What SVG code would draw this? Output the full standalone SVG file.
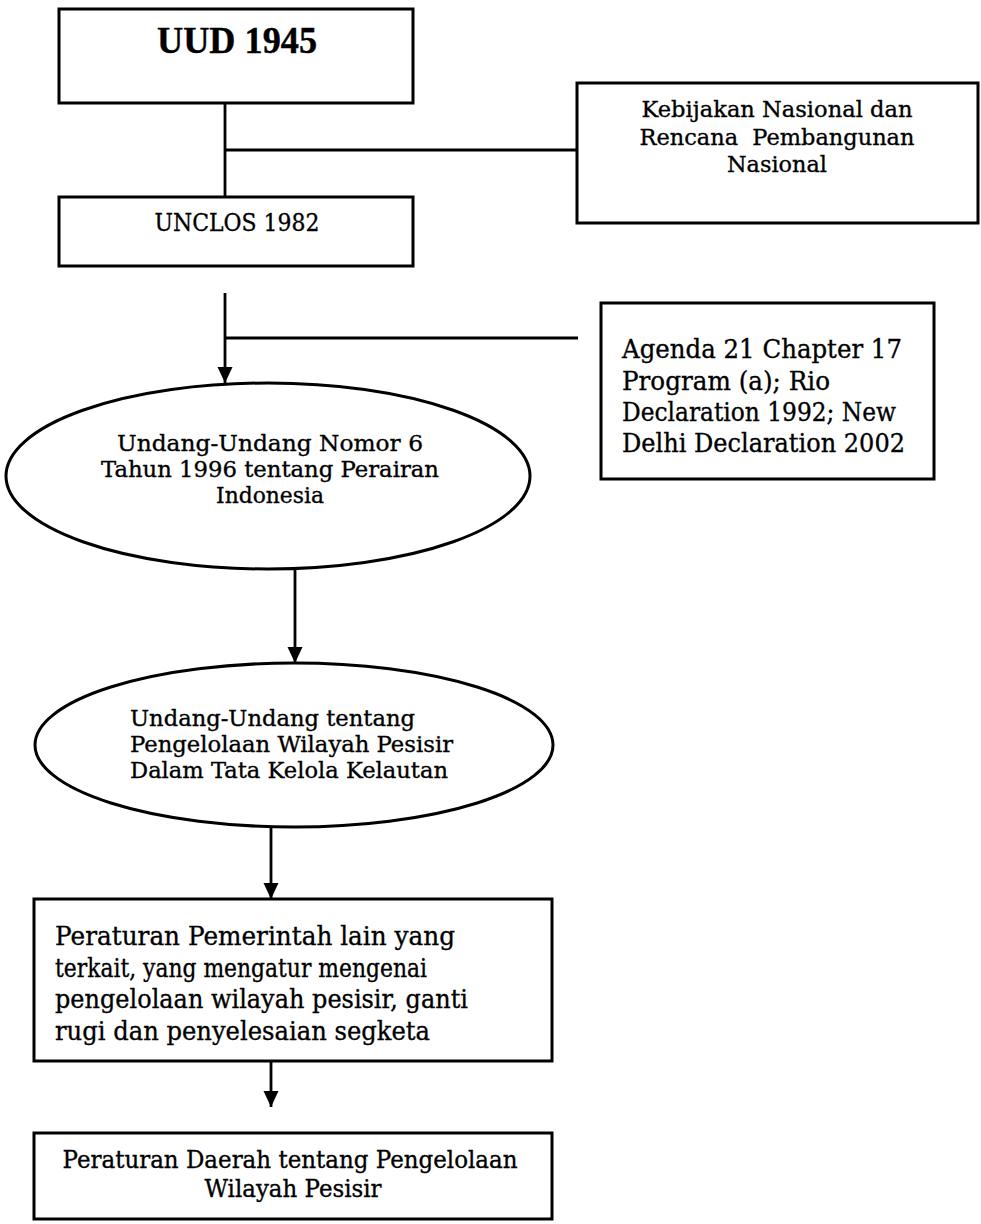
<svg xmlns="http://www.w3.org/2000/svg" width="981" height="1224" viewBox="0 0 981 1224">
<style>
.box{fill:#fff;stroke:#000;stroke-width:3}
.con{fill:none;stroke:#000;stroke-width:2.8}
.t{font-family:"DejaVu Serif","Liberation Serif",serif;fill:#000;stroke:#000;stroke-width:0.35}
.tb{font-family:"Liberation Serif","Times New Roman",serif;font-weight:bold;fill:#000;stroke:#000;stroke-width:0.4}
.m{text-anchor:middle}
</style>
<defs>
<marker id="arr" markerUnits="userSpaceOnUse" markerWidth="17" markerHeight="17" refX="16" refY="7.5" orient="auto">
<path d="M0,0 L16,7.5 L0,15 z" fill="#000"/>
</marker>
</defs>
<rect width="981" height="1224" fill="#fff"/>
<g id="connectors">
<line class="con" x1="225" y1="103" x2="225" y2="197"/>
<line class="con" x1="225" y1="150" x2="577" y2="150"/>
<line class="con" x1="225" y1="293" x2="225" y2="383" marker-end="url(#arr)"/>
<line class="con" x1="225" y1="338" x2="578" y2="338"/>
<line class="con" x1="295" y1="569" x2="295" y2="663" marker-end="url(#arr)"/>
<line class="con" x1="271" y1="827" x2="271" y2="899" marker-end="url(#arr)"/>
<line class="con" x1="271" y1="1061" x2="271" y2="1107" marker-end="url(#arr)"/>
</g>
<g id="uud1945">
<rect class="box" x="59" y="9" width="354" height="94"/>
<text class="tb m" x="237" y="53" font-size="37" textLength="160" lengthAdjust="spacingAndGlyphs">UUD 1945</text>
</g>
<g id="kebijakan">
<rect class="box" x="577" y="83" width="401" height="140"/>
<text class="t m" x="777" y="117" font-size="23" textLength="271" lengthAdjust="spacingAndGlyphs">Kebijakan Nasional dan</text>
<text class="t m" x="777" y="145" font-size="23" textLength="275" lengthAdjust="spacingAndGlyphs" style="white-space:pre">Rencana  Pembangunan</text>
<text class="t m" x="777" y="172" font-size="23" textLength="100" lengthAdjust="spacingAndGlyphs">Nasional</text>
</g>
<g id="unclos">
<rect class="box" x="59" y="197" width="354" height="69"/>
<text class="t m" x="237" y="231" font-size="25" textLength="165" lengthAdjust="spacingAndGlyphs">UNCLOS 1982</text>
</g>
<g id="agenda21">
<rect class="box" x="601" y="303" width="333" height="176"/>
<text class="t" x="622" y="358" font-size="26" textLength="280" lengthAdjust="spacingAndGlyphs">Agenda 21 Chapter 17</text>
<text class="t" x="622" y="390" font-size="26" textLength="208" lengthAdjust="spacingAndGlyphs">Program (a); Rio</text>
<text class="t" x="622" y="421" font-size="26" textLength="274" lengthAdjust="spacingAndGlyphs">Declaration 1992; New</text>
<text class="t" x="622" y="452" font-size="26" textLength="283" lengthAdjust="spacingAndGlyphs">Delhi Declaration 2002</text>
</g>
<g id="uu6-1996">
<ellipse class="box" cx="268" cy="476" rx="262" ry="93"/>
<text class="t m" x="270" y="451" font-size="23" textLength="306" lengthAdjust="spacingAndGlyphs">Undang-Undang Nomor 6</text>
<text class="t m" x="270" y="477" font-size="23" textLength="338" lengthAdjust="spacingAndGlyphs">Tahun 1996 tentang Perairan</text>
<text class="t m" x="270" y="503" font-size="23" textLength="108" lengthAdjust="spacingAndGlyphs">Indonesia</text>
</g>
<g id="uu-pesisir">
<ellipse class="box" cx="294" cy="745" rx="259" ry="82"/>
<text class="t" x="130" y="726" font-size="23" textLength="285" lengthAdjust="spacingAndGlyphs">Undang-Undang tentang</text>
<text class="t" x="130" y="752" font-size="23" textLength="323" lengthAdjust="spacingAndGlyphs">Pengelolaan Wilayah Pesisir</text>
<text class="t" x="130" y="778" font-size="23" textLength="318" lengthAdjust="spacingAndGlyphs">Dalam Tata Kelola Kelautan</text>
</g>
<g id="pp-lain">
<rect class="box" x="34" y="899" width="518" height="162"/>
<text class="t" x="55" y="945" font-size="26" textLength="400" lengthAdjust="spacingAndGlyphs">Peraturan Pemerintah lain yang</text>
<text class="t" x="55" y="977" font-size="26" textLength="372" lengthAdjust="spacingAndGlyphs">terkait, yang mengatur mengenai</text>
<text class="t" x="55" y="1008" font-size="26" textLength="413" lengthAdjust="spacingAndGlyphs">pengelolaan wilayah pesisir, ganti</text>
<text class="t" x="55" y="1040" font-size="26" textLength="375" lengthAdjust="spacingAndGlyphs">rugi dan penyelesaian segketa</text>
</g>
<g id="perda">
<rect class="box" x="34" y="1133" width="518" height="86"/>
<text class="t m" x="290" y="1168" font-size="25" textLength="455" lengthAdjust="spacingAndGlyphs">Peraturan Daerah tentang Pengelolaan</text>
<text class="t m" x="293" y="1197" font-size="25" textLength="177" lengthAdjust="spacingAndGlyphs">Wilayah Pesisir</text>
</g>
</svg>
